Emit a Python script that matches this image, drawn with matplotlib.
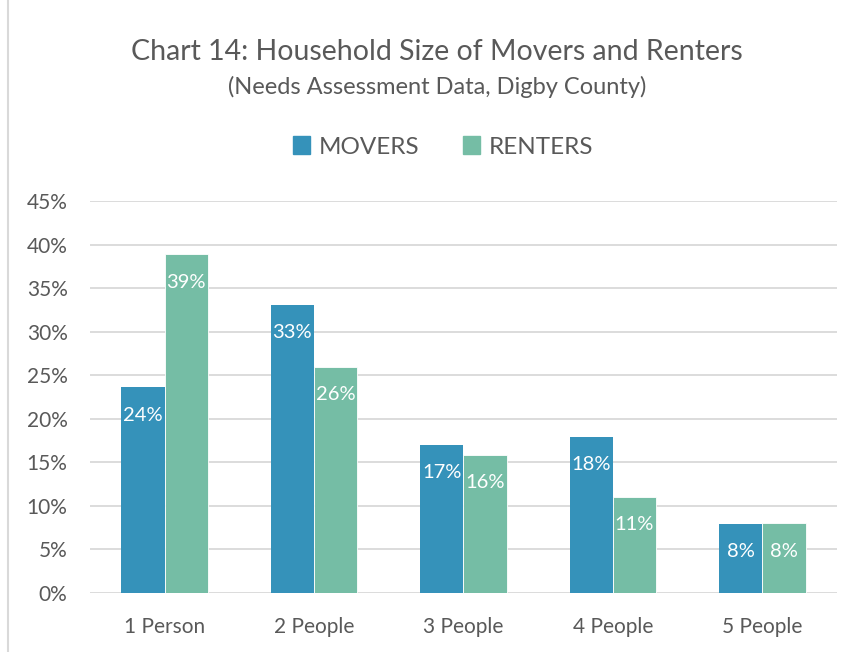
import numpy as np
import matplotlib.pyplot as plt
from matplotlib.patches import Patch
from matplotlib.ticker import PercentFormatter

plt.rcParams['font.family'] = ['Lato', 'DejaVu Sans']

categories = ["1 Person", "2 People", "3 People", "4 People", "5 People"]
movers = [23.6, 33.1, 17.0, 17.9, 7.9]
renters = [38.9, 26.0, 15.9, 11.0, 8.0]
movers_labels = ["24%", "33%", "17%", "18%", "8%"]
renters_labels = ["39%", "26%", "16%", "11%", "8%"]
yticks = [0, 5, 10, 15, 20, 25, 30, 35, 40, 45]

BLUE = "#3592BA"
GREEN = "#75BDA5"
GREY = "#595959"

fig = plt.figure(figsize=(8.55, 6.52), dpi=100)
ax = fig.add_axes([0.105, 0.0905, 0.874, 0.601])

x = np.arange(len(categories))
w = 0.29
b1 = ax.bar(x - w / 2, movers, w, color=BLUE, zorder=3)
b2 = ax.bar(x + w / 2, renters, w, color=GREEN, edgecolor="white", linewidth=0.6, zorder=3)

for bars, labels in ((b1, movers_labels), (b2, renters_labels)):
    for rect, lab in zip(bars, labels):
        ax.annotate(lab, (rect.get_x() + rect.get_width() / 2, rect.get_height()),
                    xytext=(0, -20), textcoords="offset points",
                    ha="center", va="center", color="white", fontsize=14.5, zorder=4)

ax.set_xlim(-0.5, len(categories) - 0.5)
ax.set_ylim(0, 45)
ax.set_yticks(yticks)
ax.yaxis.set_major_formatter(PercentFormatter(decimals=0))
ax.set_xticks(x)
ax.set_xticklabels(categories)
ax.tick_params(axis="both", length=0, labelsize=15, colors=GREY)
ax.tick_params(axis="y", pad=16)
ax.tick_params(axis="x", pad=17.5)
ax.grid(axis="y", color="#D9D9D9", linewidth=1.3, zorder=0)
for s in ax.spines.values():
    s.set_visible(False)

fig.text(0.511, 1 - 52 / 652, "Chart 14: Household Size of Movers and Renters",
         ha="center", va="center", fontsize=20.5, color=GREY)
fig.text(0.511, 1 - 87 / 652, "(Needs Assessment Data, Digby County)",
         ha="center", va="center", fontsize=17, color=GREY)

handles = [Patch(color=BLUE, label="MOVERS"), Patch(color=GREEN, label="RENTERS")]
fig.legend(handles=handles, loc="center", bbox_to_anchor=(0.518, 1 - 147 / 652),
           ncol=2, frameon=False, fontsize=17.5, labelcolor=GREY,
           handlelength=0.7, handleheight=0.7, handletextpad=0.35, columnspacing=1.8)

# chart border on the left edge
fig.add_artist(plt.Line2D([8 / 855, 8 / 855], [0, 1], color="#D9D9D9", linewidth=1.5))

fig.savefig("out.png", dpi=100)
